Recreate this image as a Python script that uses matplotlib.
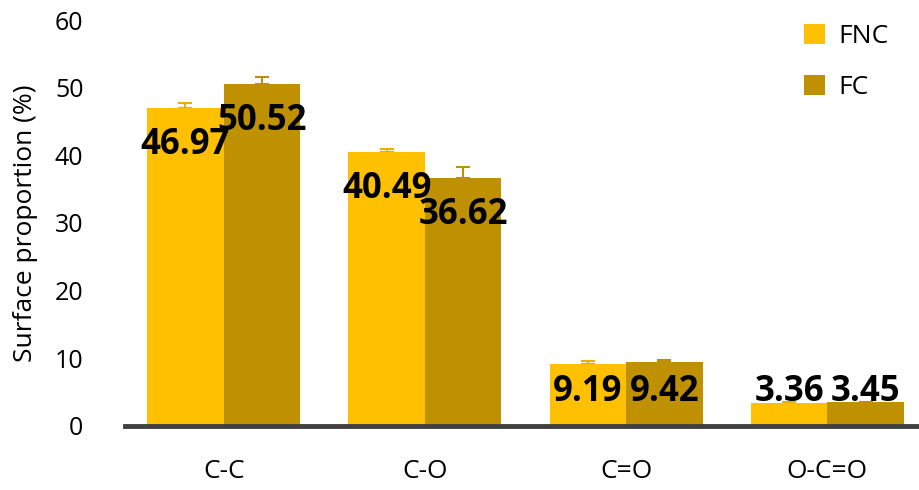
import numpy as np
import matplotlib
matplotlib.use('Agg')
import matplotlib.pyplot as plt

plt.rcParams['font.family'] = ['Open Sans', 'DejaVu Sans']

# 데이터
categories = ['C-C', 'C-O', 'C=O', 'O-C=O']
fnc_vals = [46.97, 40.49, 9.19, 3.36]
fc_vals = [50.52, 36.62, 9.42, 3.45]
fnc_err = [0.8, 0.5, 0.35, 0.1]
fc_err = [1.0, 1.6, 0.35, 0.1]
series_names = ['FNC', 'FC']

fnc_color = '#FFC000'
fc_color = '#BF9000'

fig = plt.figure(figsize=(9.2, 4.9), dpi=100)
ax = fig.add_axes([0.136, 0.131, 0.864, 0.828])

x = np.arange(len(categories))
w = 0.38

ax.bar(x - w/2, fnc_vals, w, color=fnc_color, label=series_names[0], zorder=2)
ax.bar(x + w/2, fc_vals, w, color=fc_color, label=series_names[1], zorder=2)

# 위쪽 오차막대만
ax.errorbar(x - w/2, fnc_vals, yerr=[np.zeros(len(x)), fnc_err], fmt='none',
            ecolor='#E8B000', elinewidth=1.5, capsize=5, capthick=1.5, zorder=1)
ax.errorbar(x + w/2, fc_vals, yerr=[np.zeros(len(x)), fc_err], fmt='none',
            ecolor='#BF9000', elinewidth=1.5, capsize=5, capthick=1.5, zorder=1)

# 값 라벨
for xs, vals in [(x - w/2, fnc_vals), (x + w/2, fc_vals)]:
    for xi, v in zip(xs, vals):
        ax.text(xi, max(v - 5.4, 5.0), f'{v:.2f}', ha='center', va='center',
                fontsize=25, fontweight='bold', color='black', zorder=3)

ax.set_xlim(-0.49, 3.46)
ax.set_ylim(0, 60)
ax.set_yticks(range(0, 61, 10))
ax.set_xticks(x)
ax.set_xticklabels(categories, fontsize=19)
ax.tick_params(axis='y', labelsize=18, length=0, pad=30)
ax.tick_params(axis='x', length=0, pad=24)
ax.set_ylabel('Surface proportion (%)', fontsize=19, labelpad=12)

for s in ['top', 'right', 'left']:
    ax.spines[s].set_visible(False)
ax.spines['bottom'].set_color('#404040')
ax.spines['bottom'].set_linewidth(3.5)
ax.spines['bottom'].set_zorder(4)

ax.legend(loc='upper right', bbox_to_anchor=(0.99, 1.05), frameon=False,
          fontsize=19, handlelength=0.8, handleheight=0.8, labelspacing=1.0,
          handletextpad=0.5)

fig.savefig('out.png', dpi=100)
